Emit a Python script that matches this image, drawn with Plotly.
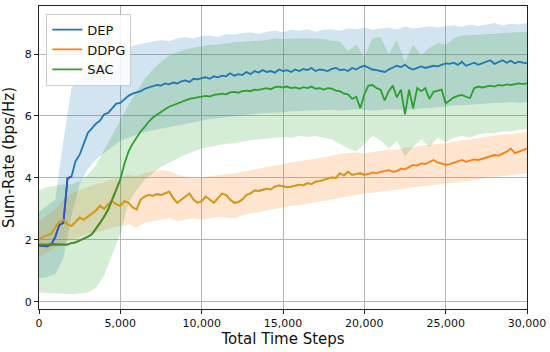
import plotly.graph_objects as go

# ---------------- data ----------------
STEP_MEAN = 250
STEP_BAND = 500

dep_mean = [
    1.82, 1.80, 1.79, 1.85, 2.10, 2.48, 2.55, 3.98, 4.05, 4.55,
    4.75, 5.10, 5.45, 5.60, 5.75, 5.85, 6.05, 6.10, 6.25, 6.40,
    6.42, 6.55, 6.65, 6.72, 6.75, 6.80, 6.88, 6.92, 6.95, 7.00,
    6.98, 7.05, 7.02, 7.08, 7.05, 7.12, 7.15, 7.10, 7.20, 7.18,
    7.22, 7.25, 7.20, 7.28, 7.25, 7.30, 7.28, 7.38, 7.30, 7.35,
    7.32, 7.42, 7.35, 7.45, 7.40, 7.48, 7.42, 7.45, 7.40, 7.50,
    7.45, 7.48, 7.42, 7.50, 7.45, 7.52, 7.48, 7.55, 7.45, 7.50,
    7.48, 7.45, 7.52, 7.55, 7.48, 7.50, 7.45, 7.55, 7.50, 7.58,
    7.62, 7.55, 7.50, 7.48, 7.45, 7.42, 7.50, 7.55, 7.62, 7.58,
    7.65, 7.55, 7.50, 7.55, 7.60, 7.55, 7.58, 7.62, 7.60, 7.65,
    7.70, 7.68, 7.72, 7.65, 7.75, 7.62, 7.68, 7.72, 7.65, 7.70,
    7.75, 7.80, 7.68, 7.75, 7.80, 7.72, 7.78, 7.70, 7.75, 7.72,
    7.70,
]

ddpg_mean = [
    2.00, 2.10, 2.15, 2.20, 2.40, 2.58, 2.65, 2.50, 2.45, 2.60,
    2.72, 2.65, 2.75, 2.85, 2.95, 3.10, 3.00, 3.15, 3.25, 3.15,
    3.10, 3.25, 3.20, 3.05, 2.98, 3.30, 3.40, 3.45, 3.42, 3.48,
    3.45, 3.50, 3.56, 3.35, 3.20, 3.30, 3.40, 3.50, 3.30, 3.20,
    3.25, 3.40, 3.30, 3.20, 3.35, 3.50, 3.45, 3.30, 3.20, 3.22,
    3.30, 3.45, 3.50, 3.60, 3.58, 3.62, 3.65, 3.63, 3.72, 3.76,
    3.72, 3.70, 3.72, 3.75, 3.78, 3.76, 3.83, 3.80, 3.88, 3.90,
    3.94, 3.98, 4.02, 4.00, 4.15, 4.08, 4.20, 4.10, 4.12, 4.15,
    4.10, 4.12, 4.18, 4.15, 4.20, 4.22, 4.25, 4.20, 4.22, 4.30,
    4.28, 4.35, 4.42, 4.40, 4.47, 4.45, 4.52, 4.58, 4.50, 4.45,
    4.42, 4.45, 4.50, 4.55, 4.58, 4.52, 4.55, 4.60, 4.58, 4.62,
    4.68, 4.72, 4.74, 4.72, 4.78, 4.85, 4.95, 4.80, 4.85, 4.90,
    4.95,
]

sac_mean = [
    1.85, 1.84, 1.85, 1.86, 1.86, 1.87, 1.86, 1.85, 1.90, 1.92,
    1.98, 2.03, 2.10, 2.18, 2.35, 2.55, 2.75, 2.98, 3.30, 3.60,
    3.95, 4.45, 4.85, 5.10, 5.30, 5.50, 5.65, 5.82, 5.95, 6.05,
    6.12, 6.22, 6.30, 6.35, 6.42, 6.45, 6.52, 6.55, 6.58, 6.60,
    6.62, 6.65, 6.63, 6.68, 6.70, 6.72, 6.70, 6.76, 6.78, 6.75,
    6.80, 6.82, 6.80, 6.85, 6.84, 6.88, 6.90, 6.86, 6.93, 6.95,
    6.92, 6.95, 6.90, 6.92, 6.88, 6.93, 6.90, 6.95, 6.88, 6.90,
    6.85, 6.90, 6.88, 6.82, 6.80, 6.72, 6.70, 6.55, 6.62, 6.25,
    6.70, 6.98, 7.00, 6.90, 6.85, 6.50, 6.80, 6.98, 6.60, 6.85,
    6.05, 6.85, 6.25, 6.90, 6.80, 6.90, 6.55, 6.78, 6.82, 6.85,
    6.40, 6.50, 6.60, 6.65, 6.68, 6.62, 6.58, 6.90, 6.95, 6.92,
    6.95, 6.98, 6.95, 7.00, 6.98, 7.02, 7.00, 7.02, 7.05, 7.03,
    7.05,
]

dep_lower = [
    0.75, 0.80, 0.90, 1.40, 2.80, 3.80, 4.30, 4.60, 4.80, 5.00,
    5.20, 5.30, 5.40, 5.48, 5.55, 5.60, 5.65, 5.70, 5.75, 5.80,
    5.85, 5.90, 5.95, 5.98, 6.00, 6.02, 6.05, 6.08, 6.10, 6.12,
    6.12, 6.15, 6.15, 6.18, 6.20, 6.20, 6.20, 6.18, 6.20, 6.22,
    6.20, 6.18, 6.20, 6.22, 6.20, 6.22, 6.20, 6.25, 6.25, 6.28,
    6.30, 6.35, 6.35, 6.38, 6.40, 6.40, 6.42, 6.42, 6.45, 6.42,
    6.45,
]
dep_upper = [
    2.90, 3.10, 3.30, 5.20, 6.90, 7.25, 7.45, 7.60, 7.75, 7.95,
    8.10, 8.20, 8.30, 8.35, 8.40, 8.45, 8.42, 8.50, 8.55, 8.50,
    8.58, 8.60, 8.55, 8.65, 8.62, 8.68, 8.70, 8.65, 8.72, 8.75,
    8.70, 8.78, 8.75, 8.80, 8.72, 8.78, 8.80, 8.75, 8.82, 8.80,
    8.85, 8.78, 8.82, 8.85, 8.80, 8.88, 8.82, 8.85, 8.90, 8.85,
    8.90, 8.92, 8.88, 8.95, 8.90, 8.95, 9.00, 8.92, 8.98, 8.95,
    9.00,
]

ddpg_lower = [
    1.45, 1.60, 1.75, 1.90, 2.00, 2.10, 2.20, 2.25, 2.30, 2.40,
    2.45, 2.50, 2.40, 2.55, 2.62, 2.65, 2.70, 2.60, 2.65, 2.70,
    2.65, 2.70, 2.75, 2.72, 2.70, 2.80, 2.85, 2.90, 2.95, 3.00,
    3.05, 3.10, 3.12, 3.15, 3.20, 3.25, 3.30, 3.35, 3.40, 3.45,
    3.50, 3.52, 3.55, 3.60, 3.62, 3.65, 3.70, 3.72, 3.76, 3.80,
    3.82, 3.85, 3.90, 3.92, 3.95, 4.00, 4.05, 4.08, 4.10, 4.12,
    4.15,
]
ddpg_upper = [
    2.60, 2.80, 3.00, 3.30, 3.50, 3.60, 3.70, 3.80, 3.85, 3.95,
    4.00, 4.10, 4.05, 4.15, 4.20, 4.25, 4.22, 4.10, 4.05, 4.00,
    4.02, 4.05, 4.08, 4.10, 4.15, 4.20, 4.25, 4.30, 4.35, 4.42,
    4.47, 4.50, 4.55, 4.58, 4.62, 4.68, 4.72, 4.78, 4.80, 4.82,
    4.80, 4.85, 4.88, 4.92, 4.90, 4.98, 5.00, 5.05, 5.08, 5.10,
    5.12, 5.18, 5.22, 5.25, 5.28, 5.32, 5.38, 5.40, 5.42, 5.45,
    5.48,
]

sac_lower = [
    0.30, 0.28, 0.27, 0.26, 0.25, 0.27, 0.30, 0.45, 0.85, 1.55,
    2.20, 3.20, 3.60, 3.95, 4.15, 4.35, 4.50, 4.62, 4.75, 4.85,
    4.95, 5.00, 5.05, 5.10, 5.12, 5.18, 5.22, 5.25, 5.28, 5.30,
    5.32, 5.30, 5.35, 5.32, 5.35, 5.30, 5.25, 5.10, 4.95, 4.85,
    5.10, 5.35, 5.20, 4.95, 5.20, 4.70, 5.00, 5.25, 5.00, 5.30,
    5.15, 5.30, 5.35, 5.30, 5.40, 5.45, 5.45, 5.50, 5.50, 5.55,
    5.60,
]
sac_upper = [
    3.60, 3.70, 3.75, 3.80, 3.80, 3.90, 4.10, 4.40, 4.90, 5.40,
    5.90, 6.35, 6.80, 7.20, 7.50, 7.75, 7.95, 8.05, 8.15, 8.20,
    8.25, 8.30, 8.30, 8.35, 8.38, 8.40, 8.42, 8.45, 8.45, 8.50,
    8.48, 8.50, 8.50, 8.52, 8.50, 8.48, 8.45, 8.40, 8.10, 8.30,
    7.90, 8.50, 8.55, 8.00, 8.45, 7.75, 8.30, 7.95, 8.20, 8.35,
    8.30, 8.50, 8.60, 8.60, 8.62, 8.65, 8.65, 8.68, 8.70, 8.70,
    8.72,
]

x_mean = [i * STEP_MEAN for i in range(len(dep_mean))]
x_band = [i * STEP_BAND for i in range(len(dep_lower))]

x_ticks = [0, 5000, 10000, 15000, 20000, 25000, 30000]
x_tick_labels = ["0", "5,000", "10,000", "15,000", "20,000", "25,000", "30,000"]
y_ticks = [0, 2, 4, 6, 8]

# ---------------- style ----------------
BLUE, ORANGE, GREEN = "#1f77b4", "#ff7f0e", "#2ca02c"
FONT = "DejaVu Sans"

fig = go.Figure()


def band(lower, upper, rgb):
    fig.add_trace(go.Scatter(
        x=x_band + x_band[::-1], y=upper + lower[::-1],
        fill="toself", fillcolor=f"rgba({rgb},0.2)",
        line=dict(width=0), mode="lines",
        hoverinfo="skip", showlegend=False))


band(dep_lower, dep_upper, "31,119,180")
band(ddpg_lower, ddpg_upper, "255,127,14")
band(sac_lower, sac_upper, "44,160,44")

LW = 1.8
fig.add_trace(go.Scatter(x=x_mean, y=dep_mean, mode="lines", name="DEP",
                         line=dict(color=BLUE, width=LW)))
fig.add_trace(go.Scatter(x=x_mean, y=ddpg_mean, mode="lines", name="DDPG",
                         line=dict(color=ORANGE, width=LW)))
fig.add_trace(go.Scatter(x=x_mean, y=sac_mean, mode="lines", name="SAC",
                         line=dict(color=GREEN, width=LW)))

# blended-looking segments where bands overlap in the reference
n_dep = 9      # up to 2,000 steps
n_ddpg = 81    # up to 20,000 steps
n_sac = 21     # up to 5,000 steps
fig.add_trace(go.Scatter(x=x_mean[:n_dep], y=dep_mean[:n_dep], mode="lines",
                         line=dict(color="#3a52bd", width=LW),
                         showlegend=False, hoverinfo="skip"))
fig.add_trace(go.Scatter(x=x_mean[:n_ddpg], y=ddpg_mean[:n_ddpg], mode="lines",
                         line=dict(color="#c9a024", width=LW),
                         showlegend=False, hoverinfo="skip"))
fig.add_trace(go.Scatter(x=x_mean[:n_sac], y=sac_mean[:n_sac], mode="lines",
                         line=dict(color="#4f8a2c", width=LW),
                         showlegend=False, hoverinfo="skip"))

axis_common = dict(
    showline=True, linecolor="#222222", linewidth=1.2, mirror=True,
    ticks="outside", ticklen=4, tickcolor="#222222",
    showgrid=True, gridcolor="#b4b4b4", gridwidth=1,
    zeroline=False, automargin=False,
    tickfont=dict(family=FONT, size=11, color="#111111"),
)

fig.update_layout(
    width=550, height=352,
    margin=dict(l=39, r=23, t=6, b=43),
    paper_bgcolor="white", plot_bgcolor="white",
    font=dict(family=FONT, color="#111111"),
    xaxis=dict(range=[0, 30000], tickvals=x_ticks, ticktext=x_tick_labels,
               title=dict(text="Total Time Steps", font=dict(family=FONT, size=15),
                          standoff=4),
               **axis_common),
    yaxis=dict(range=[-0.23, 9.55], tickvals=y_ticks,
               title=dict(text="Sum-Rate (bps/Hz)", font=dict(family=FONT, size=15),
                          standoff=6),
               **axis_common),
    legend=dict(x=0.015, y=0.975, xanchor="left", yanchor="top",
                bgcolor="rgba(255,255,255,0.85)", bordercolor="#cccccc", borderwidth=1,
                font=dict(family=FONT, size=13), itemwidth=30,
                tracegroupgap=0),
    showlegend=True,
)

fig.write_html("out.html",
               config={"displayModeBar": False},
               post_script="document.body.style.margin='0';document.body.style.overflow='hidden';")
